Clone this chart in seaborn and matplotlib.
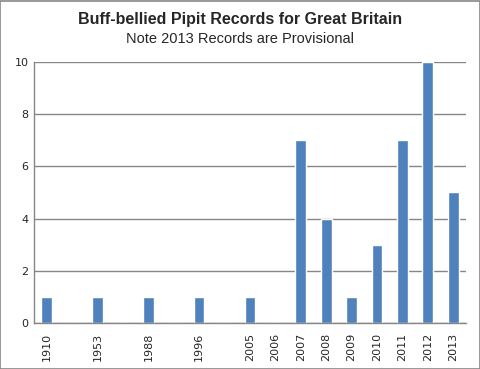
import matplotlib
matplotlib.use("Agg")
import matplotlib.pyplot as plt
import matplotlib.patches as mpatches
import pandas as pd
import seaborn as sns

# category slots (blank slots leave gaps between early years)
year_labels = ["1910", "", "1953", "", "1988", "", "1996", "", "2005", "2006",
               "2007", "2008", "2009", "2010", "2011", "2012", "2013"]
records = [1, 0, 1, 0, 1, 0, 1, 0, 1, 0, 7, 4, 1, 3, 7, 10, 5]

df = pd.DataFrame({"slot": range(len(year_labels)), "records": records})

sns.set_style("white")
plt.rcParams["font.family"] = ["Liberation Sans", "DejaVu Sans"]

fig = plt.figure(figsize=(4.81, 3.69), dpi=100)
ax = fig.add_axes([0.0707, 0.1247, 0.898, 0.7073])

sns.barplot(data=df, x="slot", y="records", color="#4F81BD", saturation=1,
            width=0.42, ax=ax)

ax.set_ylim(0, 10)
ax.set_yticks(range(0, 11, 2))
ax.yaxis.grid(True, color="#868686", linewidth=1)
ax.set_axisbelow(True)
ax.set_xticks(range(len(year_labels)))
ax.set_xticklabels(year_labels, rotation=90, fontsize=8, family="DejaVu Sans")
for lab in ax.get_yticklabels():
    lab.set_fontsize(8)
    lab.set_family("DejaVu Sans")
ax.tick_params(axis="both", length=0, pad=4)
ax.tick_params(axis="x", pad=7)
ax.set_xlabel("")
ax.set_ylabel("")

for side in ["top", "right"]:
    ax.spines[side].set_visible(False)
for side in ["left", "bottom"]:
    ax.spines[side].set_color("#868686")
    ax.spines[side].set_linewidth(1)

fig.text(0.5, 0.946, "Buff-bellied Pipit Records for Great Britain",
         ha="center", va="center", fontsize=11.5, fontweight="bold")
fig.text(0.5, 0.895, "Note 2013 Records are Provisional",
         ha="center", va="center", fontsize=10.5)

fig.patches.append(mpatches.Rectangle((0.001, 0.001), 0.997, 0.996,
                                      transform=fig.transFigure, fill=False,
                                      edgecolor="#868686", linewidth=1.2))

fig.savefig("out.png", dpi=100)
